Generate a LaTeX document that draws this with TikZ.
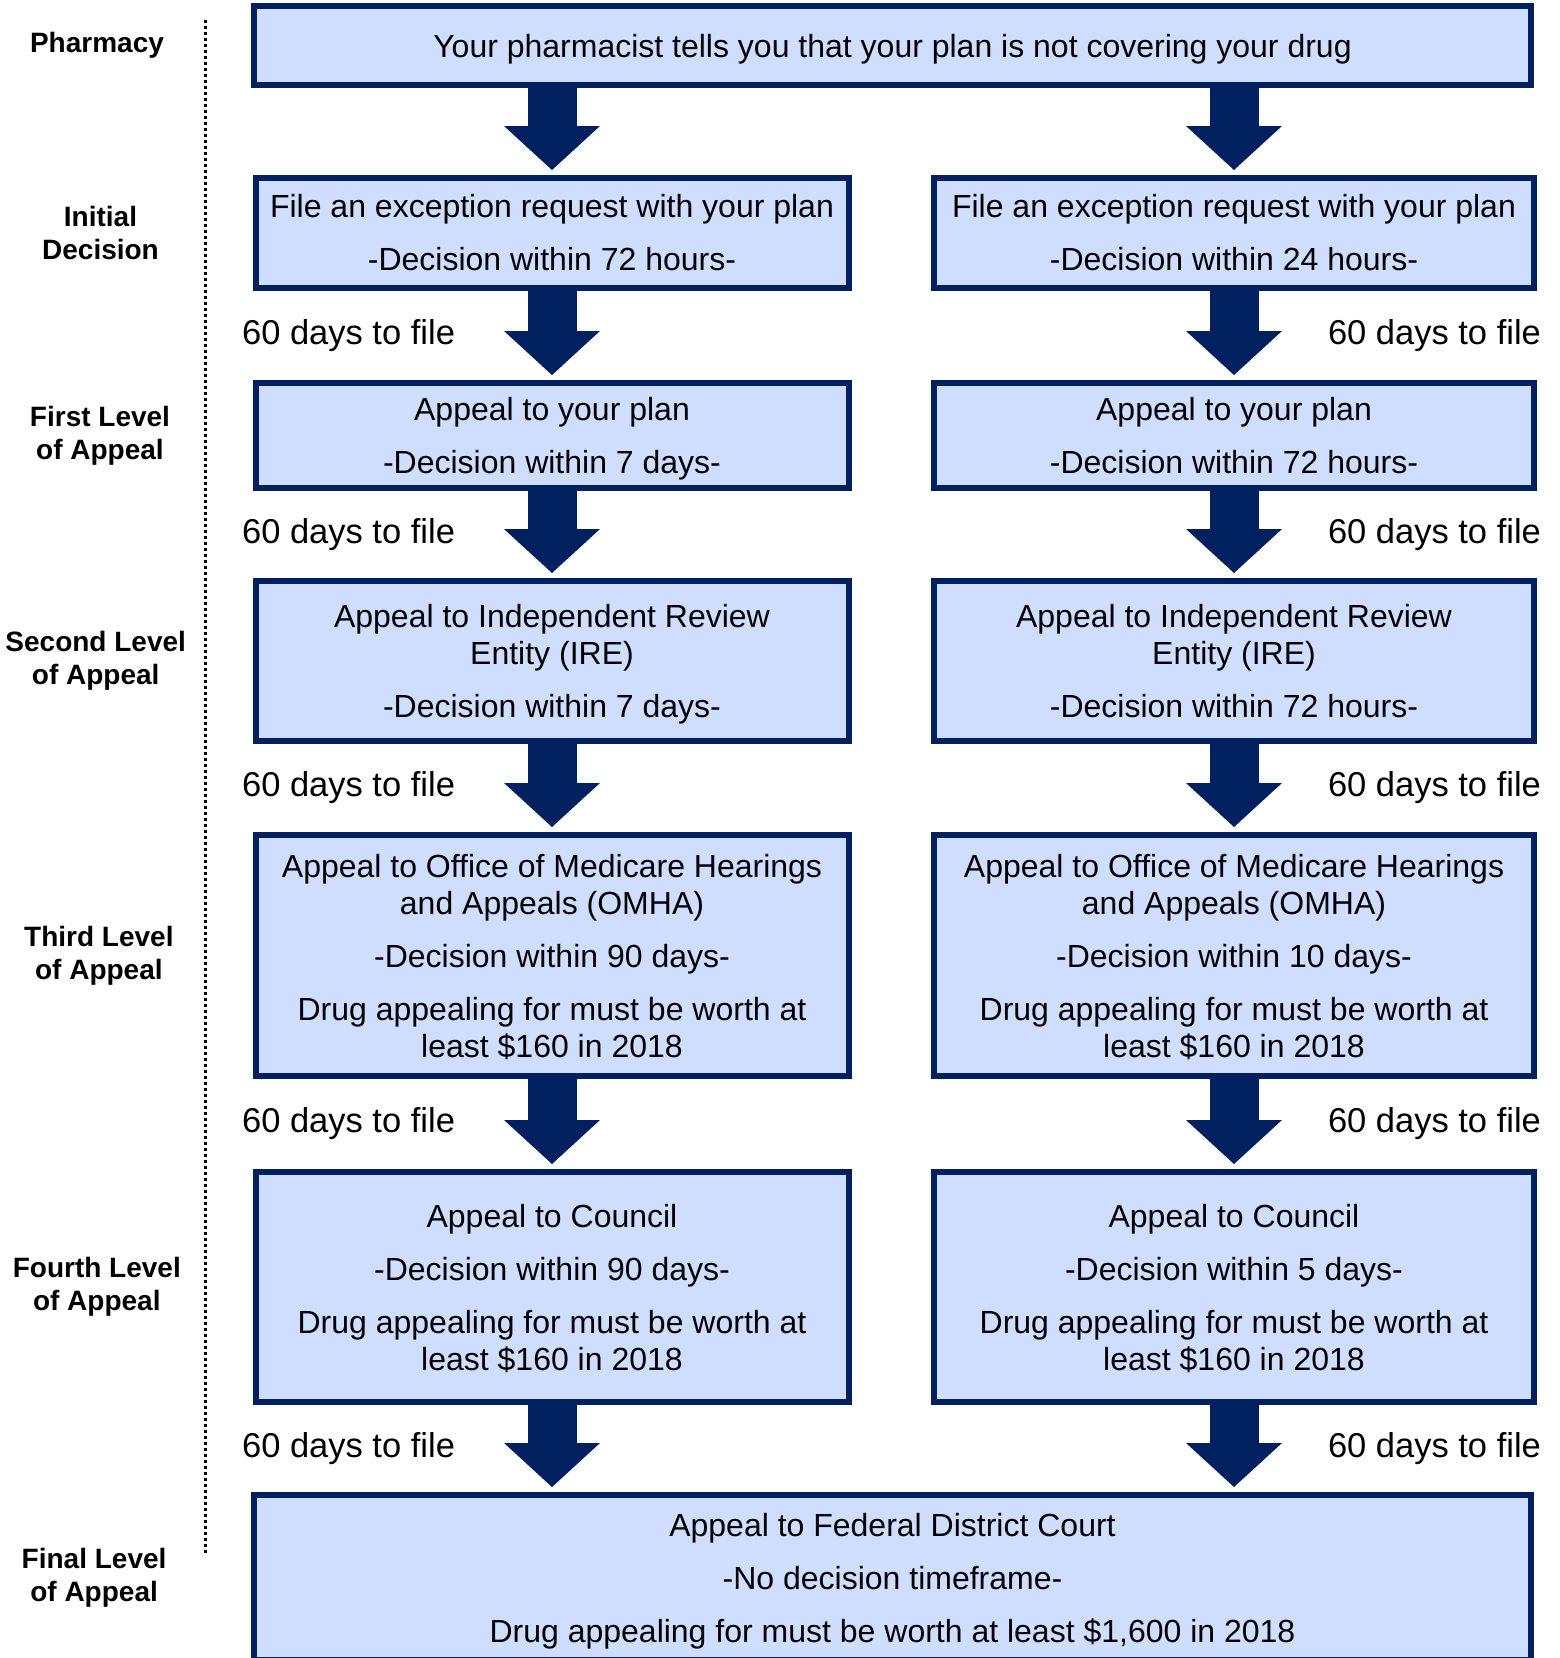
\documentclass[tikz,border=0pt]{standalone}
\usepackage{fontspec}
\setmainfont{Liberation Sans}
\usepackage{tikz}
\usepackage{color}
\usetikzlibrary{arrows.meta, positioning}
\definecolor{navy}{RGB}{0,32,96}
\definecolor{paleblue}{RGB}{207,221,254}
\tikzstyle{stage} = [draw=navy, fill=paleblue, line width=6pt, align=center, inner sep=0pt, font=\fontsize{32}{37}\selectfont]
\tikzstyle{leftcol} = [stage, minimum width=593pt]
\tikzstyle{rightcol} = [stage, minimum width=600pt]
\tikzstyle{wide} = [stage, minimum width=1277pt]
\tikzstyle{level} = [align=center, inner sep=0pt, font=\fontsize{28}{33}\selectfont\bfseries]
\tikzstyle{days} = [inner sep=0pt, outer sep=0pt, font=\fontsize{34.5}{40}\selectfont]
\tikzstyle{bigarrow} = [draw=navy, line width=49pt, shorten >=5pt, -{Triangle[width=96pt,length=44pt,line width=0pt]}]
\newcommand{\pgap}{\\[16pt]}
\newcommand{\nd}[1]{\raisebox{0pt}[\height][0pt]{#1}}

\begin{document}
\begin{tikzpicture}[x=1pt,y=-1pt]
\useasboundingbox (0,0) rectangle (1560,1658);

\draw[line width=3pt, dash pattern=on 3pt off 3pt] (205,20) -- (205,1553);

\node[wide, minimum height=79pt] (top) at (892.5,45.5) {\nd{Your pharmacist tells you that your plan is not covering your drug}};

\node[leftcol, minimum height=110pt] (init1) at (552,233) {File an exception request with your plan\pgap -Decision within 72 hours-};
\node[rightcol, minimum height=110pt] (init2) at (1234,233) {File an exception request with your plan\pgap -Decision within 24 hours-};

\node[leftcol, minimum height=105pt] (first1) at (552,435.5) {Appeal to your plan\pgap \nd{-Decision within 7 days-}};
\node[rightcol, minimum height=105pt] (first2) at (1234,435.5) {Appeal to your plan\pgap -Decision within 72 hours-};

\node[leftcol, minimum height=160pt] (second1) at (552,661) {Appeal to Independent Review\\Entity (IRE)\pgap \nd{-Decision within 7 days-}};
\node[rightcol, minimum height=160pt] (second2) at (1234,661) {Appeal to Independent Review\\Entity (IRE)\pgap -Decision within 72 hours-};

\node[leftcol, minimum height=241pt] (third1) at (552,955.5) {Appeal to Office of Medicare Hearings\\and Appeals (OMHA)\pgap -Decision within 90 days-\pgap Drug appealing for must be worth at\\\nd{least \$160 in 2018}};
\node[rightcol, minimum height=241pt] (third2) at (1234,955.5) {Appeal to Office of Medicare Hearings\\and Appeals (OMHA)\pgap -Decision within 10 days-\pgap Drug appealing for must be worth at\\\nd{least \$160 in 2018}};

\node[leftcol, minimum height=230pt] (fourth1) at (552,1287) {Appeal to Council\pgap -Decision within 90 days-\pgap Drug appealing for must be worth at\\\nd{least \$160 in 2018}};
\node[rightcol, minimum height=230pt] (fourth2) at (1234,1287) {Appeal to Council\pgap -Decision within 5 days-\pgap Drug appealing for must be worth at\\\nd{least \$160 in 2018}};

\node[wide, minimum height=165pt] (final) at (892.5,1577.5) {Appeal to Federal District Court\pgap -No decision timeframe-\pgap \nd{Drug appealing for must be worth at least \$1,600 in 2018}};

\foreach \txt/\row/\x [count=\i] in {Pharmacy/top/97, {Initial\\Decision}/init1/100.5, {First Level\\of Appeal}/first1/100, {Second Level\\of Appeal}/second1/95.7, {Third Level\\of Appeal}/third1/98.9, {Fourth Level\\of Appeal}/fourth1/96.8, {Final Level\\of Appeal}/final/94.1}
{
\node[level] (lvl\i) at (\x,0 |- \row) {\txt};
}

\draw[bigarrow] (top.south -| init1) -- (init1.north);
\draw[bigarrow] (top.south -| init2) -- (init2.north);

\foreach \a/\b in {init1/first1, first1/second1, second1/third1, third1/fourth1, fourth1/final}
{
\draw[bigarrow] (\a.south) -- (\a.south |- \b.north) node[days, midway, left=97pt] (dl\a) {60 days to file};
}

\foreach \a/\b in {init2/first2, first2/second2, second2/third2, third2/fourth2, fourth2/final}
{
\draw[bigarrow] (\a.south) -- (\a.south |- \b.north) node[days, midway, right=94pt] (dr\a) {60 days to file};
}
\end{tikzpicture}
\end{document}
